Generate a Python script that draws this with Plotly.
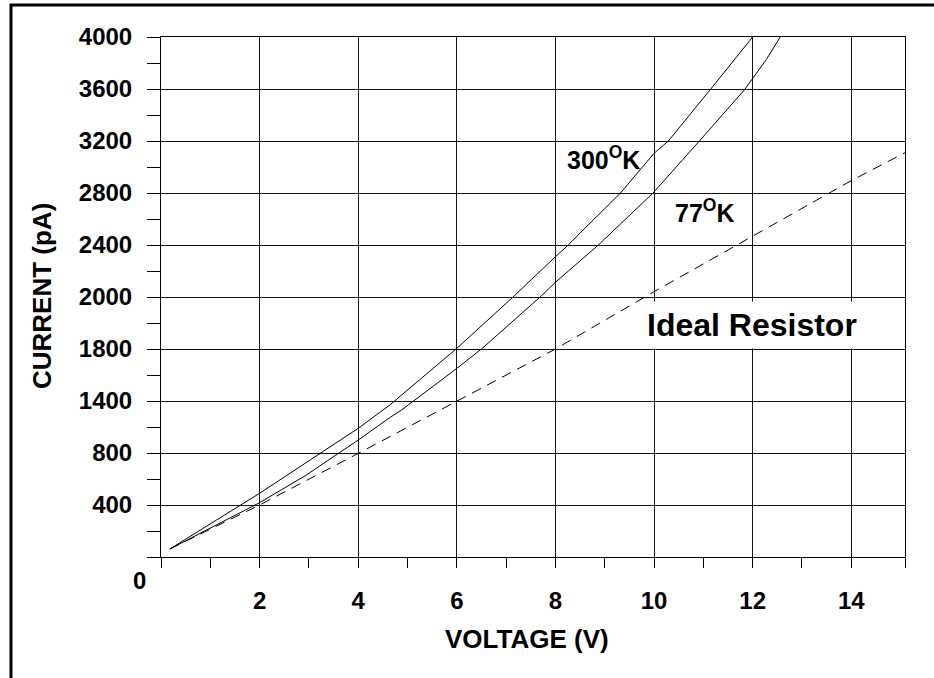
import plotly.graph_objects as go

# ---- data ----
v_300k = [0.18, 2.0, 4.0, 4.64, 6.0, 7.14, 8.0, 8.26, 8.56, 8.9, 9.32, 10.0, 10.29, 11.15, 12.0]
i_300k = [62, 490, 990, 1169, 1605, 2000, 2310, 2400, 2515, 2644, 2800, 3105, 3200, 3600, 4000]

v_77k = [0.18, 2.0, 2.95, 4.0, 4.64, 4.88, 6.0, 6.5, 7.69, 8.0, 8.87, 9.41, 9.98, 10.92, 11.83, 12.28, 12.56]
i_77k = [62, 418, 631, 900, 1072, 1131, 1451, 1600, 2000, 2113, 2400, 2597, 2800, 3200, 3592, 3828, 4000]

v_res = [0.18, 2, 4, 6, 8, 10, 12, 14, 15.09]
i_res = [62, 400, 797, 1200, 1600, 2041, 2469, 2895, 3110]

x_tick_vals = [0, 2, 4, 6, 8, 10, 12, 14, 15.09]
x_tick_text = ["", "2", "4", "6", "8", "10", "12", "14", ""]
y_tick_vals = [0, 400, 800, 1200, 1600, 2000, 2400, 2800, 3200, 3600, 4000]
y_tick_text = ["", "400", "800", "1400", "1800", "2000", "2400", "2800", "3200", "3600", "4000"]

FONT = "Liberation Sans, Arial, Helvetica, sans-serif"
W, H = 934, 678
L, R, T, B = 161, 29, 37, 121
PW, PH = W - L - R, H - T - B


def px(xp):
    return (xp - L) / PW


def py(yp):
    return (H - B - yp) / PH


fig = go.Figure()
fig.add_trace(go.Scatter(x=v_300k, y=i_300k, mode="lines",
                         line=dict(color="black", width=1), showlegend=False))
fig.add_trace(go.Scatter(x=v_77k, y=i_77k, mode="lines",
                         line=dict(color="black", width=1), showlegend=False))
fig.add_trace(go.Scatter(x=v_res, y=i_res, mode="lines",
                         line=dict(color="black", width=1, dash="10px,7px"), showlegend=False))

fig.update_layout(
    width=W, height=H,
    margin=dict(l=L, r=R, t=T, b=B, pad=0),
    paper_bgcolor="white", plot_bgcolor="white",
    font=dict(family=FONT, color="black"),
    xaxis=dict(
        range=[0, 15.09], tickmode="array", tickvals=x_tick_vals, ticktext=x_tick_text,
        showgrid=True, gridcolor="#111", gridwidth=1,
        showline=True, linecolor="black", linewidth=1, mirror=True,
        ticks="outside", ticklen=10, tickcolor="black", tickwidth=1,
        tickfont=dict(size=24, family=FONT, weight="bold"),
        ticklabelstandoff=12,
        minor=dict(tickvals=[1, 3, 5, 7, 9, 11, 13], ticks="outside", ticklen=10,
                   tickcolor="black", tickwidth=1, showgrid=False),
        zeroline=False, fixedrange=True,
    ),
    yaxis=dict(
        range=[0, 4000], tickmode="array", tickvals=y_tick_vals, ticktext=y_tick_text,
        showgrid=True, gridcolor="#111", gridwidth=1,
        showline=True, linecolor="black", linewidth=1, mirror=True,
        ticks="outside", ticklen=13, tickcolor="black", tickwidth=1,
        tickfont=dict(size=24, family=FONT, weight="bold"),
        ticklabelstandoff=10,
        minor=dict(tickvals=[200, 600, 1000, 1400, 1800, 2200, 2600, 3000, 3400, 3800],
                   ticks="outside", ticklen=13, tickcolor="black", tickwidth=1, showgrid=False),
        zeroline=False, fixedrange=True,
    ),
)

annos = [
    dict(x=px(139.5), y=py(580.5), xref="paper", yref="paper", text="0",
         font=dict(size=24, family=FONT, weight="bold")),
    dict(x=px(527), y=py(639), xref="paper", yref="paper", text="VOLTAGE (V)",
         font=dict(size=26, family=FONT, weight="bold")),
    dict(x=px(42), y=py(296), xref="paper", yref="paper", text="CURRENT (pA)", textangle=-90,
         font=dict(size=26, family=FONT, weight="bold")),
    dict(x=8.19, y=3069, xref="x", yref="y", text="300<sup>O</sup>K", xanchor="left",
         font=dict(size=25, family=FONT, weight="bold")),
    dict(x=10.38, y=2662, xref="x", yref="y", text="77<sup>O</sup>K", xanchor="left",
         font=dict(size=25, family=FONT, weight="bold")),
    dict(x=11.98, y=1788, xref="x", yref="y", text="Ideal Resistor",
         bgcolor="white", borderpad=5,
         font=dict(size=32, family=FONT, weight="bold")),
]
for a in annos:
    a.setdefault("showarrow", False)
    a.setdefault("xanchor", "center")
    a.setdefault("yanchor", "middle")
fig.update_layout(annotations=annos)

# outer frame (only top and left edges fall inside the image)
fig.add_shape(type="rect", xref="paper", yref="paper",
              x0=px(11), x1=px(945), y0=py(690), y1=py(5),
              line=dict(color="black", width=3), fillcolor="rgba(0,0,0,0)", layer="above")

fig.write_html("out.html", config={"displayModeBar": False, "staticPlot": True},
               post_script="document.body.style.margin='0';document.body.style.overflow='hidden';")
